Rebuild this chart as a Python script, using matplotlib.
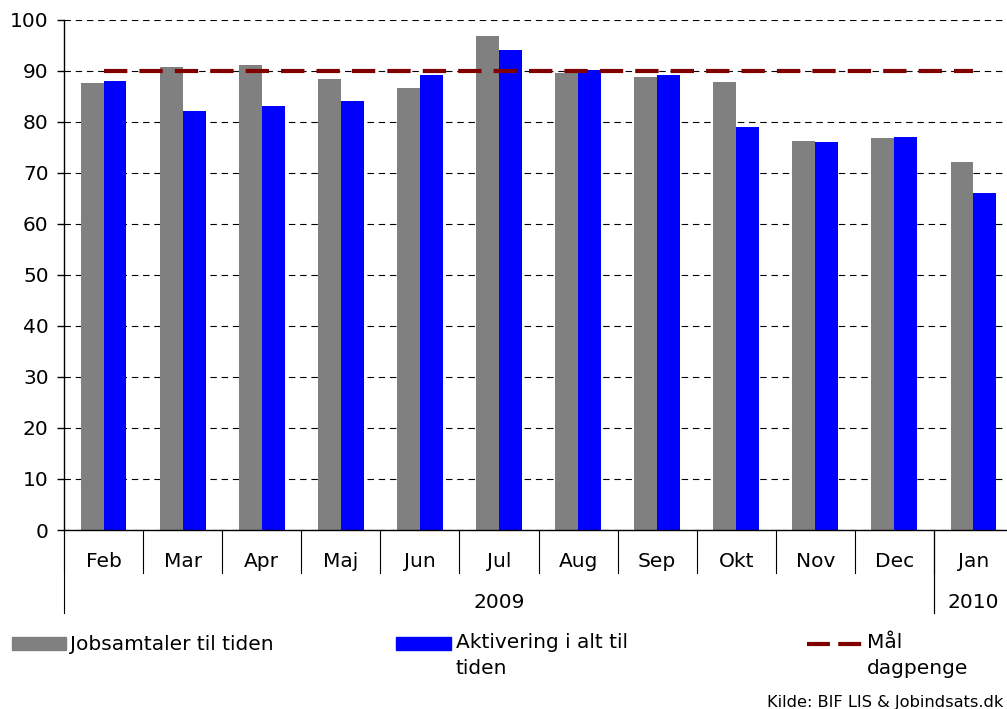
import matplotlib.pyplot as plt
import numpy as np
from matplotlib.patches import Rectangle
from matplotlib.lines import Line2D
import matplotlib.transforms as mtransforms

months = ["Feb", "Mar", "Apr", "Maj", "Jun", "Jul", "Aug", "Sep", "Okt", "Nov", "Dec", "Jan"]
years = ["2009", "2010"]
year_span = [(0, 10), (11, 11)]
jobsamtaler = [87.7, 90.8, 91.2, 88.4, 86.7, 96.9, 89.7, 88.8, 87.8, 76.3, 76.9, 72.2]
aktivering = [88.0, 82.2, 83.1, 84.2, 89.2, 94.1, 90.2, 89.2, 79.0, 76.1, 77.1, 66.1]
maal = [90] * 12

plt.rcParams['font.family'] = ['DejaVu Sans']
fs = 14.5

fig = plt.figure(figsize=(10.07, 7.09), dpi=100)
W, H = 1007, 709
ax = fig.add_axes([64 / W, 1 - 530 / H, 949 / W, 510 / H])

x = np.arange(len(months))
bw = 0.29
ax.bar(x - bw / 2, jobsamtaler, bw, color="#808080", zorder=2)
ax.bar(x + bw / 2, aktivering, bw, color="#0000ff", zorder=2)
ax.plot(x, maal, color="#800000", lw=3, dashes=(5.6, 2.9), zorder=3)

ax.set_xlim(-0.5, len(months) - 0.5)
ax.set_ylim(0, 100)
ax.set_yticks(range(0, 101, 10))
ax.tick_params(axis='y', labelsize=fs, length=5, width=1, pad=6, direction='out')
ax.set_xticks([])
ax.yaxis.grid(True, color="black", lw=0.8, dashes=(5.8, 4.3))
ax.set_axisbelow(True)
for s in ["top", "right"]:
    ax.spines[s].set_visible(False)
ax.spines["left"].set_linewidth(1)
ax.spines["bottom"].set_linewidth(1)

# category axis: months, then years
trans = mtransforms.blended_transform_factory(ax.transData, ax.transAxes)
month_drop = 42.7 / 510
year_drop = 83 / 510
for b in np.arange(len(months) + 1) - 0.5:
    ax.plot([b, b], [0, -month_drop], color="black", lw=0.8, transform=trans, clip_on=False)
for i, m in enumerate(months):
    ax.text(i, -31.7 / 510, m, transform=trans, ha="center", va="center", fontsize=fs)
for (a, b), yr in zip(year_span, years):
    ax.plot([a - 0.5, a - 0.5], [0, -year_drop], color="black", lw=0.8, transform=trans, clip_on=False)
    ax.plot([b + 0.5, b + 0.5], [0, -year_drop], color="black", lw=0.8, transform=trans, clip_on=False)
    ax.text((a + b) / 2, -72.7 / 510, yr, transform=trans, ha="center", va="center", fontsize=fs)

# legend
def fx(px):
    return px / W

def fy(py):
    return 1 - py / H

fig.patches.append(Rectangle((fx(12), fy(650)), fx(54), 13.5 / H, color="#808080",
                             transform=fig.transFigure))
fig.patches.append(Rectangle((fx(396), fy(650)), fx(55), 13.5 / H, color="#0000ff",
                             transform=fig.transFigure))
fig.add_artist(Line2D([fx(807), fx(862)], [fy(644), fy(644)], color="#800000", lw=3,
                      dashes=(5.5, 2.0), transform=fig.transFigure))
fig.text(fx(70), fy(644), "Jobsamtaler til tiden", fontsize=fs, va="center")
fig.text(fx(456), fy(633), "Aktivering i alt til\ntiden", fontsize=fs, va="top", linespacing=1.45)
fig.text(fx(867), fy(633), "Mål\ndagpenge", fontsize=fs, va="top", linespacing=1.45)
fig.text(fx(1003), fy(702), "Kilde: BIF LIS & Jobindsats.dk", fontsize=11.7, ha="right", va="center")

fig.savefig("out.png", dpi=100)
